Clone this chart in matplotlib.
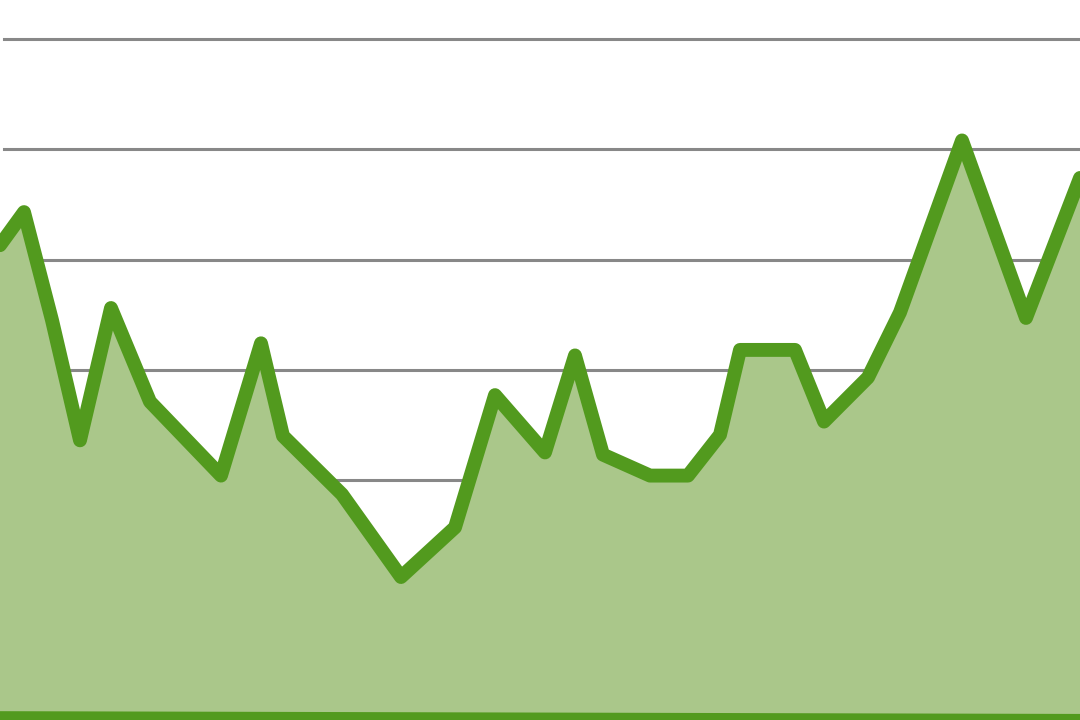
import numpy as np
import matplotlib
matplotlib.use('Agg')
import matplotlib.pyplot as plt

# 데이터 (x 위치, 값)
x = [0, 24, 52, 80, 111, 150, 221, 261, 283, 342, 401, 455, 495, 545, 575,
     603, 650, 688, 720, 740, 795, 824, 868, 900, 962, 1026, 1080]
y = [41.3, 44.3, 34.5, 23.6, 35.6, 27.1, 20.4, 32.4, 24.0, 18.7, 11.2, 15.7,
     27.7, 22.5, 31.3, 22.3, 20.4, 20.4, 24.1, 31.8, 31.8, 25.3, 29.3, 35.2,
     50.8, 34.7, 47.4]
base = [-1.6, -1.85]          # 아래쪽 기준선 (양 끝)
grid_vals = [20, 30, 40, 50, 60]

line_c = '#529a1e'
fill_c = '#aac78a'

fig = plt.figure(figsize=(10.8, 7.2), dpi=100)
ax = fig.add_axes([0, 0, 1, 1])

x = np.array(x)
y = np.array(y)
b = np.interp(x, [x[0], x[-1]], base)

for g in grid_vals:
    ax.plot([4, 1080], [g, g], color='#888888', lw=2.2, zorder=1)

ax.fill_between(x, b, y, color=fill_c, lw=0, zorder=2)
ax.plot(x, y, color=line_c, lw=10, solid_joinstyle='round', solid_capstyle='round', zorder=3)
ax.plot([x[0], x[-1]], base, color=line_c, lw=10, zorder=3)

ax.set_xlim(0, 1080)
ax.set_ylim(-1.77, 63.54)
ax.axis('off')

fig.savefig('out.png', dpi=100)
